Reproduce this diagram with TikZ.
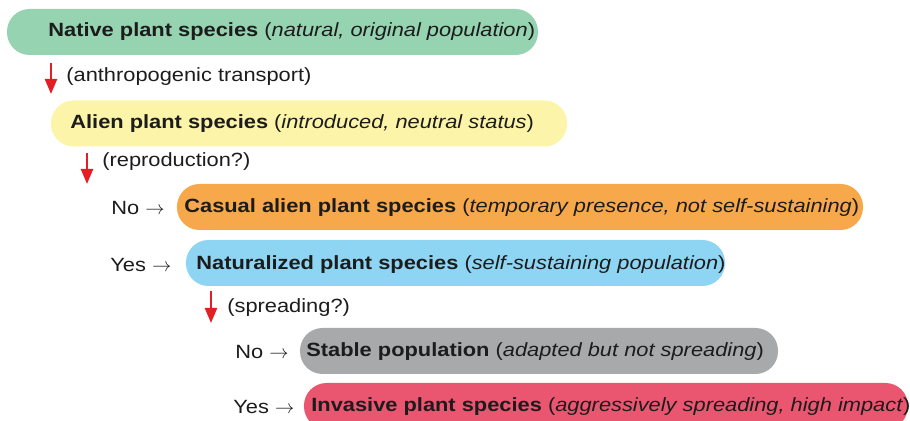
\documentclass[tikz,border=0pt]{standalone}
\usepackage{fontspec}
\setmainfont[FakeStretch=1.14]{Liberation Sans}
\usetikzlibrary{arrows.meta}
\definecolor{nativegreen}{HTML}{96D3B1}
\definecolor{alienyellow}{HTML}{FCF4A8}
\definecolor{casualorange}{HTML}{F6A84A}
\definecolor{natblue}{HTML}{8ED5F3}
\definecolor{stablegray}{HTML}{A8A9AB}
\definecolor{invred}{HTML}{EA5670}
\definecolor{arrowred}{HTML}{E31E24}
\definecolor{ink}{HTML}{1C1C1C}
\begin{document}
\begin{tikzpicture}[x=0.2mm, y=-0.2mm,
        every node/.style={font=\fontsize{10.9pt}{13pt}\selectfont},
        pill/.style={rounded corners=4.5mm, minimum height=9.2mm, inner sep=0pt},
        txt/.style={anchor=west, inner sep=0pt, text=ink},
        down/.style={-{Triangle[length=3mm, width=2.4mm]}, line width=0.45mm, draw=arrowred}
    ]
        \useasboundingbox (0,0) rectangle (910,421);

        % boxes
        \node[pill, fill=nativegreen, minimum width=106.2mm] (nativebox) at (272.5,32) {};
        \node[pill, fill=alienyellow, minimum width=103.2mm] (alienbox) at (309,123.5) {};
        \node[pill, fill=casualorange, minimum width=137.2mm] (casualbox) at (520,207) {};
        \node[pill, fill=natblue, minimum width=107.8mm] (natbox) at (455.5,263) {};
        \node[pill, fill=stablegray, minimum width=95.6mm] (stablebox) at (539,351) {};
        \node[pill, fill=invred, minimum width=120.8mm] (invbox) at (606,406) {};

        % texts
        \node[txt] (native) at (48,32) {\textbf{Native plant species} (\textit{natural, original population})};
        \node[txt] (alien) at (70,124) {\textbf{Alien plant species} (\textit{introduced, neutral status})};
        \node[txt] (casual) at (184,208) {\textbf{Casual alien plant species} (\textit{temporary presence, not self-sustaining})};
        \node[txt] (natural) at (196,265) {\textbf{Naturalized plant species} (\textit{self-sustaining population})};
        \node[txt] (stable) at (306,352) {\textbf{Stable population} (\textit{adapted but not spreading})};
        \node[txt] (invasive) at (311,407) {\textbf{Invasive plant species} (\textit{aggressively spreading, high impact})};

        \node[txt] (transport) at (66,77) {(anthropogenic transport)};
        \node[txt] (repro) at (102,162) {(reproduction?)};
        \node[txt] (spread) at (227,308) {(spreading?)};
        \node[txt] (no1) at (111,208) {No $\rightarrow$};
        \node[txt] (yes1) at (110,265) {Yes $\rightarrow$};
        \node[txt] (no2) at (235,352) {No $\rightarrow$};
        \node[txt] (yes2) at (233,407) {Yes $\rightarrow$};

        % red arrows
        \coordinate (a1) at (51,63);
        \coordinate (b1) at (51,94);
        \coordinate (a2) at (87,153);
        \coordinate (b2) at (87,184);
        \coordinate (a3) at (211,291);
        \coordinate (b3) at (211,323);
        \draw[down] (a1) -- (b1);
        \draw[down] (a2) -- (b2);
        \draw[down] (a3) -- (b3);
    \end{tikzpicture}
\end{document}
